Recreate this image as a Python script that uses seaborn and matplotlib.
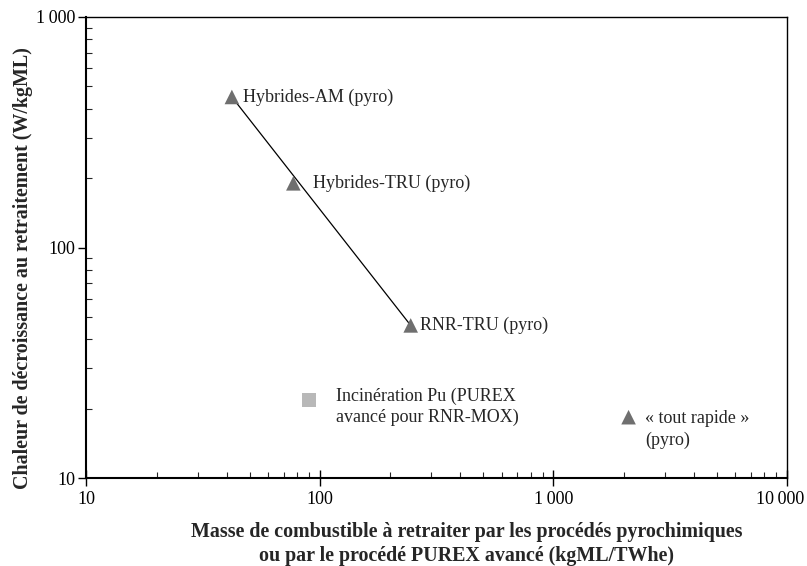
import pandas as pd
import matplotlib.pyplot as plt
import matplotlib.transforms as mtransforms
import seaborn as sns
from matplotlib.ticker import FuncFormatter, LogLocator

# data
names = ["Hybrides-AM", "Hybrides-TRU", "RNR-TRU", "Incinération Pu", "tout rapide"]
masse = [42, 77, 245, 90, 2100]
chaleur = [450, 190, 46, 21.8, 18.4]
kind = ["pyro", "pyro", "pyro", "purex", "pyro"]
labels = ["Hybrides-AM (pyro)", "Hybrides-TRU (pyro)", "RNR-TRU (pyro)",
          "Incinération Pu (PUREX\navancé pour RNR-MOX)", "« tout rapide »\n(pyro)"]
label_offsets = [(8, 0), (14, 0), (7, 0), (19, -5), (12, 5)]
label_va = ["center", "center", "center", "center", "top"]
x_ticks = [10, 100, 1000, 10000]
y_ticks = [10, 100, 1000]

df = pd.DataFrame({"nom": names, "masse": masse, "chaleur": chaleur, "type": kind})
trend = df[df["nom"].isin(["Hybrides-AM", "RNR-TRU"])]

sns.set_style("ticks")
plt.rcParams["font.family"] = ["Liberation Serif", "DejaVu Serif"]

fig, ax = plt.subplots(figsize=(8.07, 5.66), dpi=100)

ax.plot(trend["masse"], trend["chaleur"], color="black", lw=0.9, zorder=1)
sns.scatterplot(data=df, x="masse", y="chaleur", hue="type", style="type",
                markers={"pyro": "^", "purex": "s"},
                palette={"pyro": "#6f6f6f", "purex": "#b8b8b8"},
                s=110, linewidth=0, legend=False, zorder=2, ax=ax)

for x, y, txt, off, va in zip(masse, chaleur, labels, label_offsets, label_va):
    ax.annotate(txt, (x, y), xytext=off, textcoords="offset points",
                ha="left", va=va, fontsize=13, linespacing=1.3)

ax.set_xscale("log")
ax.set_yscale("log")
ax.set_xlim(10, 10000)
ax.set_ylim(10, 1000)
ax.set_xticks(x_ticks)
ax.set_yticks(y_ticks)

fmt = FuncFormatter(lambda v, p: f"{int(round(v)):,}".replace(",", "\u2009"))
ax.xaxis.set_major_formatter(fmt)
ax.yaxis.set_major_formatter(fmt)
ax.xaxis.set_minor_locator(LogLocator(base=10, subs=range(2, 10)))
ax.yaxis.set_minor_locator(LogLocator(base=10, subs=range(2, 10)))
ax.xaxis.set_minor_formatter(FuncFormatter(lambda v, p: ""))
ax.yaxis.set_minor_formatter(FuncFormatter(lambda v, p: ""))

ax.tick_params(which="major", width=1, labelsize=13, colors="black")
ax.tick_params(axis="x", which="major", direction="inout", length=11, pad=4)
ax.tick_params(axis="y", which="major", direction="out", length=6, pad=2)
ax.tick_params(which="minor", direction="in", length=4, width=0.8)

# last x label sits a little left of its tick, as in the source figure
last = ax.xaxis.get_major_ticks()[-1].label1
last.set_transform(last.get_transform() +
                   mtransforms.ScaledTranslation(-0.07, 0, fig.dpi_scale_trans))

for s in ax.spines.values():
    s.set_color("black")
    s.set_linewidth(1)
for s in ["left", "bottom"]:
    ax.spines[s].set_linewidth(1.5)

ax.set_xlabel("Masse de combustible à retraiter par les procédés pyrochimiques\n"
              "ou par le procédé PUREX avancé (kgML/TWhe)",
              fontsize=14.4, fontweight="bold", linespacing=1.28)
ax.set_ylabel("Chaleur de décroissance au retraitement (W/kgML)",
              fontsize=14.4, fontweight="bold")
ax.xaxis.set_label_coords(0.543, -0.095)
ax.yaxis.set_label_coords(-0.076, 0.455)

fig.subplots_adjust(left=0.107, right=0.975, top=0.97, bottom=0.155)
fig.savefig("out.png", dpi=100)
